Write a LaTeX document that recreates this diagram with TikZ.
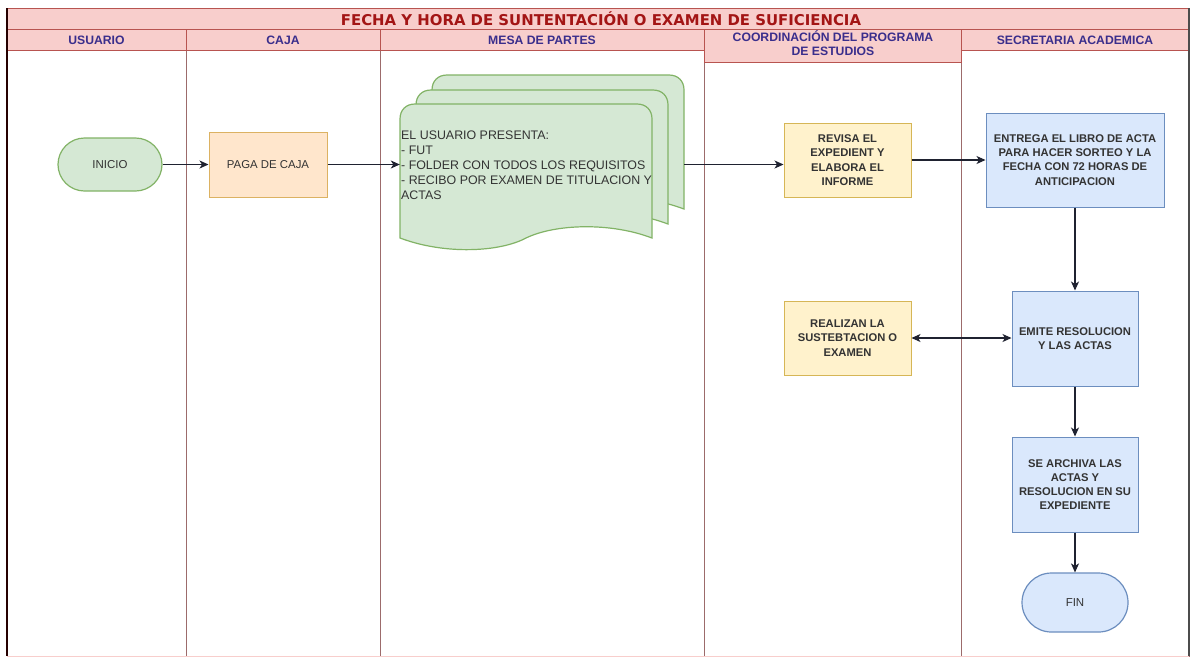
\documentclass[tikz,border=0pt]{standalone}
\usepackage{fontspec}
\setmainfont{Liberation Sans}
\newfontfamily\titlefont{DejaVu Sans}
\usetikzlibrary{arrows.meta,shapes.misc}
\definecolor{hdrfill}{HTML}{F8CECC}
\definecolor{hdrline}{HTML}{B85450}
\definecolor{titlecol}{HTML}{A31515}
\definecolor{hdrtext}{HTML}{3A2E8C}
\definecolor{laneline}{HTML}{9C6B6B}
\definecolor{grfill}{HTML}{D5E8D4}
\definecolor{grline}{HTML}{82B366}
\definecolor{orfill}{HTML}{FFE6CC}
\definecolor{orline}{HTML}{DCB262}
\definecolor{yefill}{HTML}{FFF2CC}
\definecolor{yeline}{HTML}{D6B656}
\definecolor{blfill}{HTML}{DAE8FC}
\definecolor{blline}{HTML}{6C8EBF}
\definecolor{txt}{HTML}{333333}
\definecolor{arr}{HTML}{1F2230}
\tikzset{
  hdrcell/.style={fill=hdrfill,draw=hdrline,line width=0.8pt},
  hdrlabel/.style={text=hdrtext,font=\fontsize{12.2}{13.8}\selectfont\bfseries,align=center,inner sep=0pt},
  term/.style={rounded rectangle,draw=grline,fill=grfill,line width=1.2pt,text=txt,font=\fontsize{11.5}{14}\selectfont,inner sep=0pt},
  termblue/.style={rounded rectangle,draw=blline,fill=blfill,line width=1.2pt,text=txt,font=\fontsize{11.5}{14}\selectfont,inner sep=0pt},
  orbox/.style={rectangle,draw=orline,fill=orfill,line width=1pt,text=txt,font=\fontsize{11.4}{14}\selectfont,inner sep=0pt,align=center},
  yebox/.style={rectangle,draw=yeline,fill=yefill,line width=1pt,text=txt,font=\fontsize{11.2}{14.5}\selectfont\bfseries,inner sep=0pt,align=center},
  blbox/.style={rectangle,draw=blline,fill=blfill,line width=1pt,text=txt,font=\fontsize{11.2}{14.2}\selectfont\bfseries,inner sep=0pt,align=center},
  docshape/.style={draw=grline,fill=grfill,line width=1.2pt},
  flow/.style={draw=arr,line width=1.1pt,-{Stealth[length=9pt,width=8pt,inset=2.5pt]}},
  flowboth/.style={draw=arr,line width=1.1pt,{Stealth[length=9pt,width=8pt,inset=2.5pt]}-{Stealth[length=9pt,width=8pt,inset=2.5pt]}},
}
\begin{document}
\begin{tikzpicture}[x=1pt,y=-1pt]
\useasboundingbox (0,0) rectangle (1193,657);
\fill[white] (0,0) rectangle (1193,657);
% lane bodies
\draw[laneline,line width=0.8pt] (7,50) rectangle (186,656);
\draw[laneline,line width=0.8pt] (186,50) rectangle (380,656);
\draw[laneline,line width=0.8pt] (380,50) rectangle (704.5,656);
\draw[laneline,line width=0.8pt] (704.5,62) rectangle (961,656);
\draw[laneline,line width=0.8pt] (961,50) rectangle (1189,656);
\draw[hdrfill,line width=1pt] (7,656) -- (1189,656);
% title and headers
\draw[hdrcell] (7,8) rectangle (1189,29);
\node[text=titlecol,font=\titlefont\fontsize{14.9}{16}\selectfont\bfseries,inner sep=0pt] (title) at (601,18.5) {FECHA Y HORA DE SUNTENTACIÓN O EXAMEN DE SUFICIENCIA};
\draw[hdrcell] (7,29) rectangle (186,50);
\draw[hdrcell] (186,29) rectangle (380,50);
\draw[hdrcell] (380,29) rectangle (704.5,50);
\draw[hdrcell] (704.5,29) rectangle (961,62);
\draw[hdrcell] (961,29) rectangle (1189,50);
\node[hdrlabel] (h1) at (96.5,40) {USUARIO};
\node[hdrlabel] (h2) at (283,40) {CAJA};
\node[hdrlabel] (h3) at (542,40) {MESA DE PARTES};
\node[hdrlabel] (h4) at (833,43) {COORDINACIÓN DEL PROGRAMA\\DE ESTUDIOS};
\node[hdrlabel] (h5) at (1075,40) {SECRETARIA ACADEMICA};
% outer borders
\draw[black!85!red,line width=2pt] (7,8) -- (7,656);
\draw[black!70,line width=1.2pt] (1189,8) -- (1189,656);
% document stack
\foreach \dx/\dy in {32/-29,16/-14,0/0}{
  \begin{scope}[shift={(\dx,\dy)}]
    \draw[docshape] (400,238) -- (400,119)
      .. controls (400,110) and (406,104) .. (415,104) -- (637,104)
      .. controls (646,104) and (652,110) .. (652,119) -- (652,238)
      .. controls (610,222) and (555,224) .. (526,238)
      .. controls (500,252) and (445,255) .. (400,238) -- cycle;
  \end{scope}
}
\node[inner sep=0pt,minimum width=252pt,minimum height=134pt] (doc) at (526,171) {};
\node[inner sep=0pt,minimum width=252pt,minimum height=134pt] (docback) at (558,142) {};
\node[anchor=north west,inner sep=0pt,text=txt,align=left,font=\fontsize{12.4}{15}\selectfont] (doctext) at (401,131)
  {EL USUARIO PRESENTA:\\- FUT\\- FOLDER CON TODOS LOS REQUISITOS\\- RECIBO POR EXAMEN DE TITULACION Y\\ACTAS};
% nodes
\node[term,minimum width=104pt,minimum height=53pt] (inicio) at (110,164.5) {INICIO};
\node[orbox,minimum width=118pt,minimum height=65pt] (paga) at (268,164.5) {PAGA DE CAJA};
\node[yebox,minimum width=127pt,minimum height=74pt] (revisa) at (847.5,160) {REVISA EL\\EXPEDIENT Y\\ELABORA EL\\INFORME};
\node[blbox,minimum width=178pt,minimum height=94pt] (entrega) at (1075,160) {ENTREGA EL LIBRO DE ACTA\\PARA HACER SORTEO Y LA\\FECHA CON 72 HORAS DE\\ANTICIPACION};
\node[blbox,minimum width=126pt,minimum height=95pt] (emite) at (1075,338.5) {EMITE RESOLUCION\\Y LAS ACTAS};
\node[yebox,minimum width=127pt,minimum height=74pt] (realizan) at (847.5,338) {REALIZAN LA\\SUSTEBTACION O\\EXAMEN};
\node[blbox,minimum width=126pt,minimum height=95pt] (archiva) at (1075,484.5) {SE ARCHIVA LAS\\ACTAS Y\\RESOLUCION EN SU\\EXPEDIENTE};
\node[termblue,minimum width=106pt,minimum height=59pt] (fin) at (1075,602.5) {FIN};
% connectors
\draw[flow] (inicio.east) -- (paga.west);
\draw[flow] (paga.east) -- (doc.west |- paga.east);
\draw[flow] (docback.east |- paga.east) -- (revisa.west |- paga.east);
\draw[flow] (revisa.east) -- (entrega.west);
\draw[flow] (entrega.south) -- (emite.north);
\draw[flowboth] (realizan.east) -- (emite.west |- realizan.east);
\draw[flow] (emite.south) -- (archiva.north);
\draw[flow] (archiva.south) -- (fin.north);
\end{tikzpicture}
\end{document}
